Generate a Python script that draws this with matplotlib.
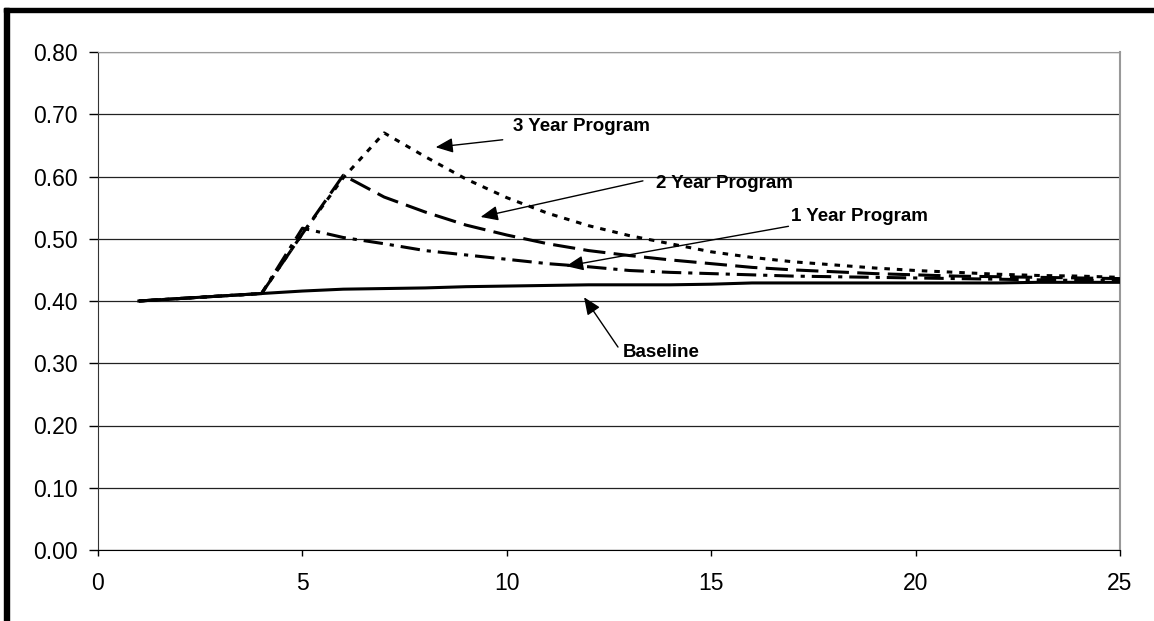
import matplotlib.pyplot as plt
from matplotlib.patches import Rectangle

plt.rcParams['font.family'] = ['Liberation Sans', 'DejaVu Sans']
plt.rcParams['lines.scale_dashes'] = False

# 数据
years = list(range(1, 26))
baseline = [0.400, 0.404, 0.408, 0.412, 0.416, 0.419, 0.420, 0.421, 0.423, 0.424,
            0.425, 0.426, 0.426, 0.426, 0.427, 0.429, 0.429, 0.429, 0.429, 0.429,
            0.429, 0.429, 0.430, 0.430, 0.430]
prog1 = [0.400, 0.404, 0.408, 0.412, 0.517, 0.502, 0.492, 0.481, 0.474, 0.467,
         0.460, 0.455, 0.449, 0.446, 0.444, 0.442, 0.440, 0.439, 0.438, 0.437,
         0.436, 0.435, 0.434, 0.433, 0.433]
prog2 = [0.400, 0.404, 0.408, 0.412, 0.508, 0.602, 0.567, 0.543, 0.522, 0.506,
         0.492, 0.481, 0.473, 0.466, 0.460, 0.454, 0.450, 0.447, 0.444, 0.442,
         0.440, 0.439, 0.438, 0.437, 0.436]
prog3 = [0.400, 0.404, 0.408, 0.412, 0.508, 0.598, 0.670, 0.632, 0.596, 0.566,
         0.541, 0.521, 0.505, 0.492, 0.479, 0.470, 0.463, 0.458, 0.453, 0.449,
         0.446, 0.443, 0.441, 0.440, 0.438]
x_ticks = [0, 5, 10, 15, 20, 25]
y_ticks = [0.0, 0.1, 0.2, 0.3, 0.4, 0.5, 0.6, 0.7, 0.8]

fig = plt.figure(figsize=(11.54, 6.21), dpi=100)
# 外框（上边和左边粗黑线）
fig.patches.append(Rectangle((4 / 1154, (621 - 12) / 621), 1150 / 1154, 4 / 621,
                             transform=fig.transFigure, color='black', zorder=0))
fig.patches.append(Rectangle((4 / 1154, 0), 5 / 1154, (621 - 8) / 621,
                             transform=fig.transFigure, color='black', zorder=0))

ax = fig.add_axes([98 / 1154, 71 / 621, 1022 / 1154, 498 / 621])

lw = 2.2
ax.plot(years, baseline, color='black', linewidth=lw, linestyle='-', zorder=3)
ax.plot(years, prog1, color='black', linewidth=lw, linestyle=(0, (14, 5, 3, 5)), zorder=3)
ax.plot(years, prog2, color='black', linewidth=lw, linestyle=(0, (16, 6)), zorder=3)
ax.plot(years, prog3, color='black', linewidth=lw, linestyle=(0, (4, 5)), zorder=3)

ax.set_xlim(0, 25)
ax.set_ylim(0, 0.8)
ax.set_xticks(x_ticks)
ax.set_yticks(y_ticks)
ax.set_yticklabels(['{:.2f}'.format(v) for v in y_ticks])
ax.yaxis.grid(True, color='#222222', linewidth=0.9)
ax.set_axisbelow(True)
ax.tick_params(axis='y', length=6.5, width=1, pad=8, labelsize=16.5, colors='black')
ax.tick_params(axis='x', length=4.5, width=1, pad=11, labelsize=16.5, colors='black')
ax.spines['top'].set_color('#999999')
ax.spines['right'].set_color('#999999')
ax.spines['right'].set_linewidth(1.5)
ax.spines['left'].set_color('#333333')
ax.spines['bottom'].set_color('black')

# 标注
notes = [
    ('3 Year Program', (10.15, 0.680), (9.90, 0.659), (8.26, 0.647)),
    ('2 Year Program', (13.65, 0.588), (13.33, 0.593), (9.36, 0.535)),
    ('1 Year Program', (16.96, 0.536), (16.89, 0.520), (11.45, 0.456)),
    ('Baseline', (12.84, 0.318), (12.72, 0.326), (11.89, 0.406)),
]
for label, txt, tail, head in notes:
    ax.text(txt[0], txt[1], label, fontsize=13.5, fontweight='bold',
            ha='left', va='center', zorder=4)
    ax.annotate('', xy=head, xytext=tail,
                arrowprops=dict(arrowstyle='-|>,head_length=0.7,head_width=0.3',
                                mutation_scale=15, color='black', lw=1,
                                shrinkA=0, shrinkB=0), zorder=4)

plt.savefig('out.png', dpi=100)
